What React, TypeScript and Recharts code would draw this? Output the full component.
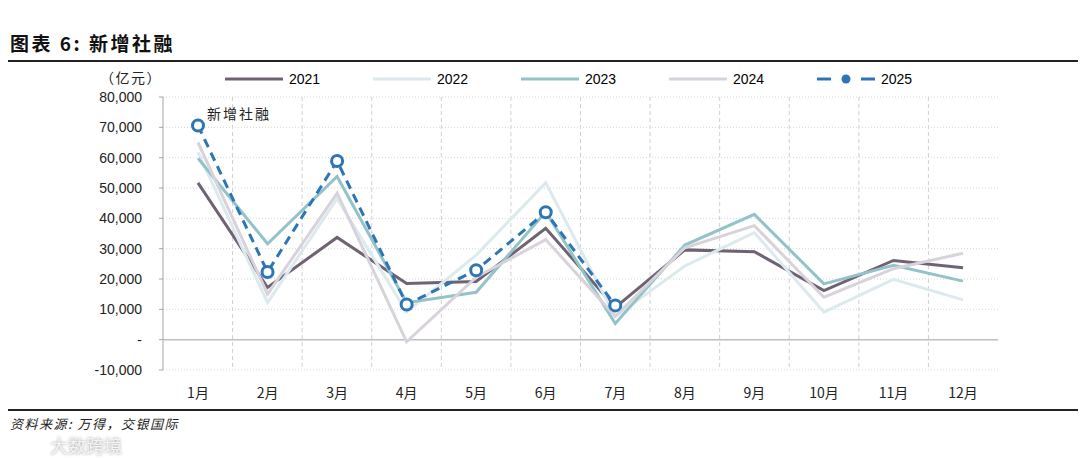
import { LineChart, Line, XAxis, YAxis, CartesianGrid, ReferenceLine } from 'recharts';

const months = ['1月', '2月', '3月', '4月', '5月', '6月', '7月', '8月', '9月', '10月', '11月', '12月'];
const y2021 = [51700, 17200, 33700, 18500, 19200, 36700, 10600, 29600, 29000, 16200, 26100, 23700];
const y2022 = [61800, 12200, 46500, 9100, 27900, 51700, 7600, 24300, 35300, 9100, 19900, 13100];
const y2023 = [59800, 31600, 53800, 12200, 15600, 42200, 5300, 31200, 41300, 18400, 24500, 19300];
const y2024 = [65000, 15000, 48300, -700, 20600, 33000, 7700, 30300, 37600, 14000, 23400, 28500];
const y2025 = [70600, 22300, 58900, 11600, 22900, 42000, 11300, null, null, null, null, null];
const yTicks = [-10000, 0, 10000, 20000, 30000, 40000, 50000, 60000, 70000, 80000];

const data = months.map((m, i) => ({
  month: m,
  '2021': y2021[i],
  '2022': y2022[i],
  '2023': y2023[i],
  '2024': y2024[i],
  '2025': y2025[i],
}));

const series = [
  { key: '2021', color: '#6f6373' },
  { key: '2022', color: '#dceaee' },
  { key: '2023', color: '#93c3c8' },
  { key: '2024', color: '#d8d3da' },
  { key: '2025', color: '#2e75b6' },
];

const numFont = '"Liberation Sans", Arial, sans-serif';
const cjkFont = '"Noto Sans CJK SC", sans-serif';

const fmt = (v: number) => (v === 0 ? '-' : v.toLocaleString('en-US'));

const Marker = (props: any) => {
  const { cx, cy, value } = props;
  if (value == null || cx == null) return null;
  return <circle cx={cx} cy={cy} r={5.5} fill="#ffffff" stroke="#2e75b6" strokeWidth={3} />;
};

// legend drawn by hand so it doesn't eat into the plot area
const LegendRow = () => (
  <div style={{ position: 'absolute', left: 225, top: 71, display: 'flex', fontFamily: numFont, fontSize: 14, color: '#000' }}>
    {series.map((s) => (
      <div key={s.key} style={{ display: 'flex', alignItems: 'center', width: 148 }}>
        <svg width={64} height={12}>
          {s.key === '2025' ? (
            <g>
              <line x1={0} y1={6} x2={14} y2={6} stroke={s.color} strokeWidth={3} />
              <circle cx={29} cy={6} r={4.5} fill={s.color} />
              <line x1={44} y1={6} x2={58} y2={6} stroke={s.color} strokeWidth={3} />
            </g>
          ) : (
            <line x1={0} y1={6} x2={58} y2={6} stroke={s.color} strokeWidth={3} />
          )}
        </svg>
        <span>{s.key}</span>
      </div>
    ))}
  </div>
);

export default function App() {
  return (
    <div style={{ position: 'absolute', left: 0, top: 0, width: 1080, height: 458, background: '#fff', overflow: 'hidden' }}>
      <div style={{ position: 'absolute', left: 10, top: 29, fontFamily: cjkFont, fontWeight: 700, fontSize: 19, letterSpacing: 2.5, color: '#111' }}>
        图表 6: 新增社融
      </div>
      <div style={{ position: 'absolute', left: 8, top: 60, width: 1070, height: 1.5, background: '#222' }} />
      <div style={{ position: 'absolute', left: 100, top: 67, fontFamily: cjkFont, fontSize: 14, letterSpacing: 1.5, color: '#222' }}>
        （亿元）
      </div>
      <LegendRow />
      <LineChart
        width={1080}
        height={458}
        data={data}
        margin={{ top: 97, right: 82, bottom: 58, left: 103 }}
        style={{ position: 'absolute', left: 0, top: 0 }}
      >
        <CartesianGrid
          horizontal={false}
          stroke="#d0d0d0"
          strokeDasharray="4 3"
          verticalCoordinatesGenerator={({ offset }: any) =>
            months.slice(1).map((_, i) => offset.left + (offset.width * (i + 1)) / months.length)
          }
        />
        <CartesianGrid vertical={false} stroke="#d6d6d6" strokeDasharray="1 2" />
        <XAxis
          dataKey="month"
          axisLine={false}
          tickLine={false}
          height={30}
          tickMargin={12}
          padding={{ left: 35, right: 35 }}
          tick={{ fontFamily: cjkFont, fontSize: 14, fill: '#222' }}
          interval={0}
        />
        <YAxis
          domain={[-10000, 80000]}
          ticks={yTicks}
          tickFormatter={fmt}
          width={60}
          axisLine={{ stroke: '#a6a6a6' }}
          tickLine={{ stroke: '#a6a6a6' }}
          tickSize={4}
          tickMargin={17}
          tick={{ fontFamily: numFont, fontSize: 14, fill: '#222' }}
        />
        <ReferenceLine y={0} stroke="#bfbfbf" strokeWidth={1.5} />
        {series.slice(0, 4).map((s) => (
          <Line
            key={s.key}
            type="linear"
            dataKey={s.key}
            stroke={s.color}
            strokeWidth={3}
            dot={false}
            isAnimationActive={false}
          />
        ))}
        <Line
          type="linear"
          dataKey="2025"
          stroke="#2e75b6"
          strokeWidth={3}
          strokeDasharray="9 6"
          dot={<Marker />}
          activeDot={false}
          isAnimationActive={false}
        />
      </LineChart>
      <div style={{ position: 'absolute', left: 207, top: 103, fontFamily: cjkFont, fontSize: 14, letterSpacing: 2, color: '#222' }}>
        新增社融
      </div>
      <div style={{ position: 'absolute', left: 8, top: 409, width: 1070, height: 1.5, background: '#222' }} />
      <div style={{ position: 'absolute', left: 10, top: 414, fontFamily: cjkFont, fontStyle: 'italic', fontSize: 13, letterSpacing: 1.5, color: '#222' }}>
        资料来源: 万得，交银国际
      </div>
      <div style={{ position: 'absolute', left: 50, top: 434, fontFamily: cjkFont, fontSize: 18, lineHeight: '22px', color: '#f4f4f4', textShadow: '0 0 3px #999' }}>
        大数跨境
      </div>
    </div>
  );
}
